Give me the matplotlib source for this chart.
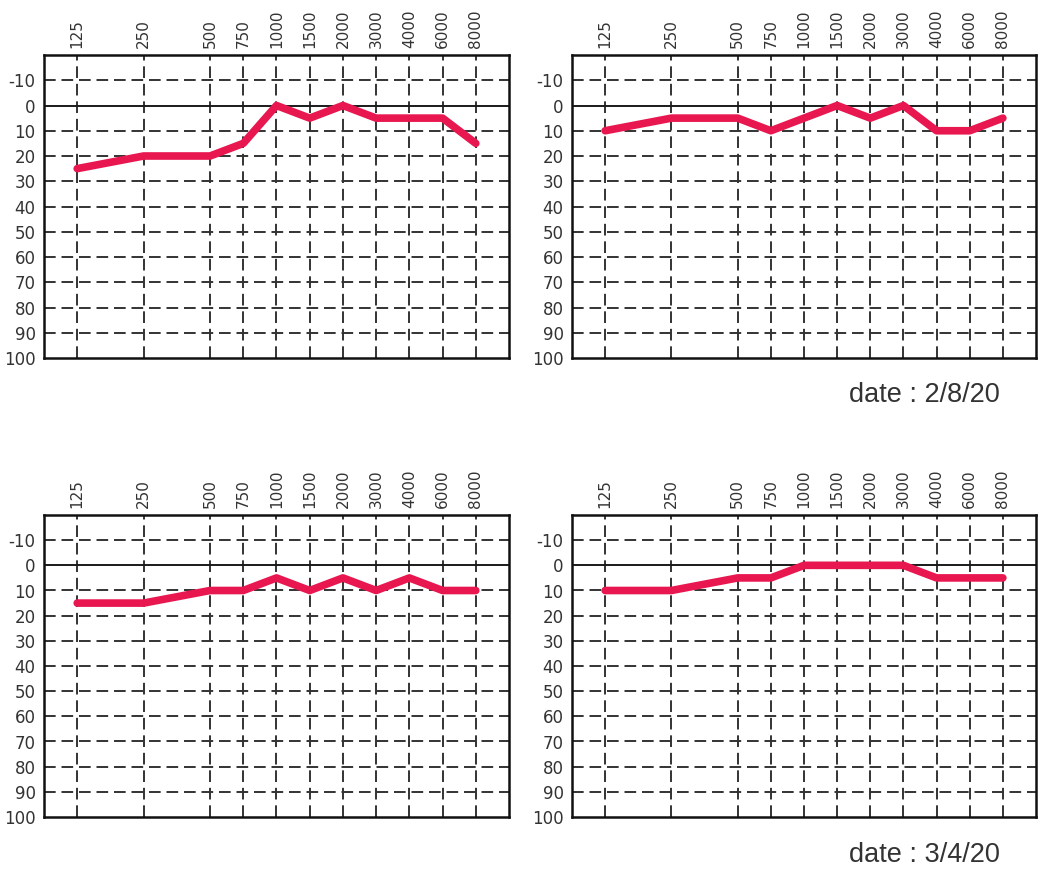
import matplotlib
matplotlib.use("Agg")
import matplotlib.pyplot as plt

freqs = ["125", "250", "500", "750", "1000", "1500", "2000", "3000", "4000", "6000", "8000"]
freq_pos = [0, 2, 4, 5, 6, 7, 8, 9, 10, 11, 12]
y_ticks = [-10, 0, 10, 20, 30, 40, 50, 60, 70, 80, 90, 100]

panel1 = [25, 20, 20, 15, 0, 5, 0, 5, 5, 5, 15]
panel2 = [10, 5, 5, 10, 5, 0, 5, 0, 10, 10, 5]
panel3 = [15, 15, 10, 10, 5, 10, 5, 10, 5, 10, 10]
panel4 = [10, 10, 5, 5, 0, 0, 0, 0, 5, 5, 5]
dates = ["date : 2/8/20", "date : 3/4/20"]

tick_font = ["Liberation Sans Narrow", "DejaVu Sans Condensed", "DejaVu Sans"]
W, H = 1050, 872
fig = plt.figure(figsize=(W / 100, H / 100), dpi=100)

boxes = [
    (44, 55, 509, 358),
    (572, 55, 1036, 358),
    (44, 515, 509, 817),
    (572, 515, 1036, 817),
]
series = [panel1, panel2, panel3, panel4]

for (l, t, r, b), vals in zip(boxes, series):
    ax = fig.add_axes([l / W, 1 - b / H, (r - l) / W, (b - t) / H])
    ax.set_xlim(-1, 13)
    ax.set_ylim(100, -20)
    for x in freq_pos:
        ax.axvline(x, color="#333333", lw=1.4, ls=(0, (6, 3)), zorder=1)
    for y in y_ticks[:-1]:
        if y == 0:
            ax.axhline(y, color="#1a1a1a", lw=1.4, zorder=1)
        else:
            ax.axhline(y, color="#333333", lw=1.4, ls=(0, (6, 3)), zorder=1)
    ax.plot(freq_pos, vals, color="#E8174F", lw=5.5, solid_capstyle="round",
            solid_joinstyle="round", zorder=3)
    ax.xaxis.tick_top()
    ax.set_xticks(freq_pos)
    ax.set_xticklabels(freqs, rotation=90, family=tick_font, fontsize=11, color="#333333")
    ax.set_yticks(y_ticks)
    ax.set_yticklabels([str(v) for v in y_ticks], family=tick_font, fontsize=12, color="#333333")
    ax.tick_params(length=0, pad=6)
    ax.tick_params(axis="x", pad=5)
    for s in ax.spines.values():
        s.set_linewidth(1.8)
        s.set_color("#111111")

fig.text(1000 / W, 1 - 395 / H, dates[0], ha="right", va="center",
         family="Liberation Sans", fontsize=19.5, color="#333333")
fig.text(1000 / W, 1 - 855 / H, dates[1], ha="right", va="center",
         family="Liberation Sans", fontsize=19.5, color="#333333")

fig.savefig("out.png", dpi=100, facecolor="white")
